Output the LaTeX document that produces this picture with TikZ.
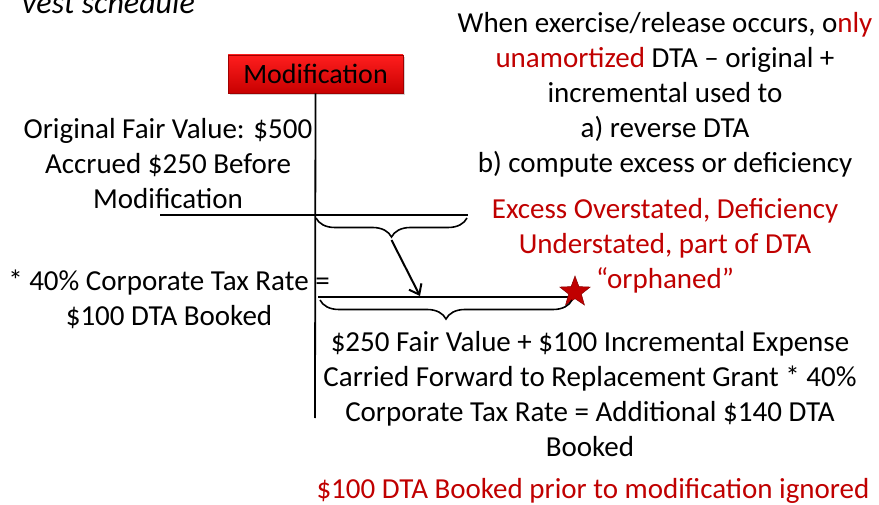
\documentclass[tikz,border=0pt]{standalone}
\usepackage{fontspec}
\setmainfont{Carlito}
\usetikzlibrary{arrows.meta,decorations.pathreplacing,shapes.geometric,shadows}
\definecolor{darkred}{RGB}{192,0,0}
\definecolor{boxtop}{RGB}{255,30,30}
\definecolor{boxbot}{RGB}{200,0,0}
\tikzset{
  txt/.style={align=center,inner sep=0pt,font=\fontsize{29}{35}\selectfont},
  rtxt/.style={txt,text=darkred},
  bar/.style={line width=1.8pt},
  curly/.style={line width=1.6pt,decorate,decoration={brace,mirror,amplitude=19pt,aspect=0.5}},
}
\begin{document}
\begin{tikzpicture}[x=1pt,y=-1pt]
\useasboundingbox (0,0) rectangle (879,505);

% heading fragment
\node[inner sep=0pt,anchor=base west,font=\fontsize{32}{38}\selectfont\itshape] (head) at (22,14) {vest schedule};

% modification marker and timeline
\node[draw=boxbot!80!black,line width=0.6pt,top color=boxtop,bottom color=boxbot,
      drop shadow={opacity=0.35,shadow xshift=2pt,shadow yshift=-2pt},
      minimum width=175pt,minimum height=38pt,inner sep=0pt,
      font=\fontsize{28}{32}\selectfont] (mod) at (315.5,74) {Modification};
\coordinate (vbot) at (315,418);
\draw[bar] (mod.south) -- (vbot);

% original grant line
\coordinate (l1a) at (160,215);
\coordinate (l1b) at (468,215);
\draw[bar] (l1a) -- (l1b);
\coordinate (b1a) at (316,218);
\coordinate (b1b) at (467,218);
\draw[curly] (b1a) -- (b1b);
\coordinate (b1tip) at (391.5,240);

% replacement grant line
\coordinate (l2a) at (318,297);
\coordinate (l2b) at (574,297);
\draw[bar] (l2a) -- (l2b);
\node[star,star points=5,star point ratio=2.4,fill=darkred,draw=darkred!70!black,line width=0.5pt,
      minimum size=32pt,inner sep=0pt] (star) at (575,292) {};
\coordinate (b2a) at (320,300);
\coordinate (b2b) at (572,300);
\draw[curly] (b2a) -- (b2b);
\coordinate (arrend) at (420,296);
\draw[line width=2pt,-{Straight Barb[length=9pt,width=14pt,line width=2pt]}] (b1tip) -- (arrend);

% texts
\node[txt] (orig) at (168,164) {Original Fair Value: \$500\\Accrued \$250 Before\\Modification};
\node[txt] (rate) at (169,299) {* 40\% Corporate Tax Rate =\\\$100 DTA Booked};
\node[txt] (note) at (665,95) {When exercise/release occurs, o\textcolor{darkred}{nly}\\
  \textcolor{darkred}{unamortized} DTA -- original +\\incremental used to\\a) reverse DTA\\b) compute excess or deficiency};
\node[rtxt] (orph) at (665,246) {Excess Overstated, Deficiency\\Understated, part of DTA\\``orphaned''};
\node[txt] (repl) at (590,394) {\$250 Fair Value + \$100 Incremental Expense\\Carried Forward to Replacement Grant * 40\%\\Corporate Tax Rate = Additional \$140 DTA\\Booked};
\node[rtxt] (ign) at (593,491) {\$100 DTA Booked prior to modification ignored};
\end{tikzpicture}
\end{document}
